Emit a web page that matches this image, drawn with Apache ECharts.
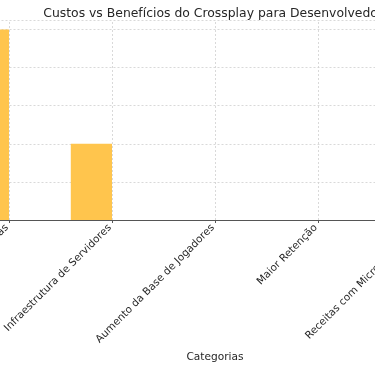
<!DOCTYPE html>
<html>
<head>
<meta charset="utf-8">
<script src="https://cdn.jsdelivr.net/npm/echarts@6/dist/echarts.min.js"></script>
<style>html,body{margin:0;padding:0;background:#fff}#c{width:375px;height:366px}</style>
</head>
<body>
<div id="c"></div>
<script>
const categories = ['Adaptação entre Plataformas', 'Infraestrutura de Servidores', 'Aumento da Base de Jogadores', 'Maior Retenção', 'Receitas com Microtransações'];
const custos = [100, 40, 0, 0, 0];
const beneficios = [0, 0, 0, 0, 0];
const yTicks = [0, 20, 40, 60, 80, 100];
const titleText = 'Custos vs Benefícios do Crossplay para Desenvolvedores';
const xName = 'Categorias';

const font = 'DejaVu Sans';
const chart = echarts.init(document.getElementById('c'), null, {renderer: 'canvas'});
chart.setOption({
  animation: false,
  title: {
    text: titleText, left: 215, top: 3, textAlign: 'center',
    textStyle: {fontFamily: font, fontSize: 12.4, fontWeight: 'normal', color: '#262626'}
  },
  grid: {left: -42.5, right: -97.5, top: 20, bottom: 146, containLabel: false, outerBoundsMode: 'none'},
  xAxis: {
    type: 'category', data: categories, boundaryGap: true,
    name: xName, nameLocation: 'middle', nameGap: 124,
    nameTextStyle: {fontFamily: font, fontSize: 10.6, color: '#262626'},
    axisLine: {lineStyle: {color: '#555', width: 1}},
    axisTick: {show: true, alignWithLabel: true, length: 3, lineStyle: {color: '#555'}},
    axisLabel: {rotate: 45, margin: 4, padding: [0, 3, 0, 0], fontFamily: font, fontSize: 10.4, color: '#262626', interval: 0},
    splitLine: {show: false}
  },
  yAxis: {
    type: 'value', min: 0, max: 105, interval: 20,
    axisLine: {show: false}, axisTick: {show: false},
    axisLabel: {show: false},
    splitLine: {lineStyle: {color: '#d0d0d0', type: [2, 2], width: 0.8}}
  },
  series: [
    {
      type: 'bar', name: 'Custos', data: custos, barWidth: '40%', barGap: '0%',
      itemStyle: {color: '#ffc54d'},
      z: 3
    },
    {
      type: 'bar', name: 'Benefícios', data: beneficios, barWidth: '40%',
      itemStyle: {color: '#5b9bd5'}
    },
    {
      type: 'line', name: 'grid', data: [], silent: true, z: 1,
      markLine: {
        symbol: 'none', silent: true, label: {show: false},
        lineStyle: {color: '#d0d0d0', type: [2, 2], width: 0.8},
        data: categories.map(c => ({xAxis: c}))
      }
    }
  ]
});
</script>
</body>
</html>
